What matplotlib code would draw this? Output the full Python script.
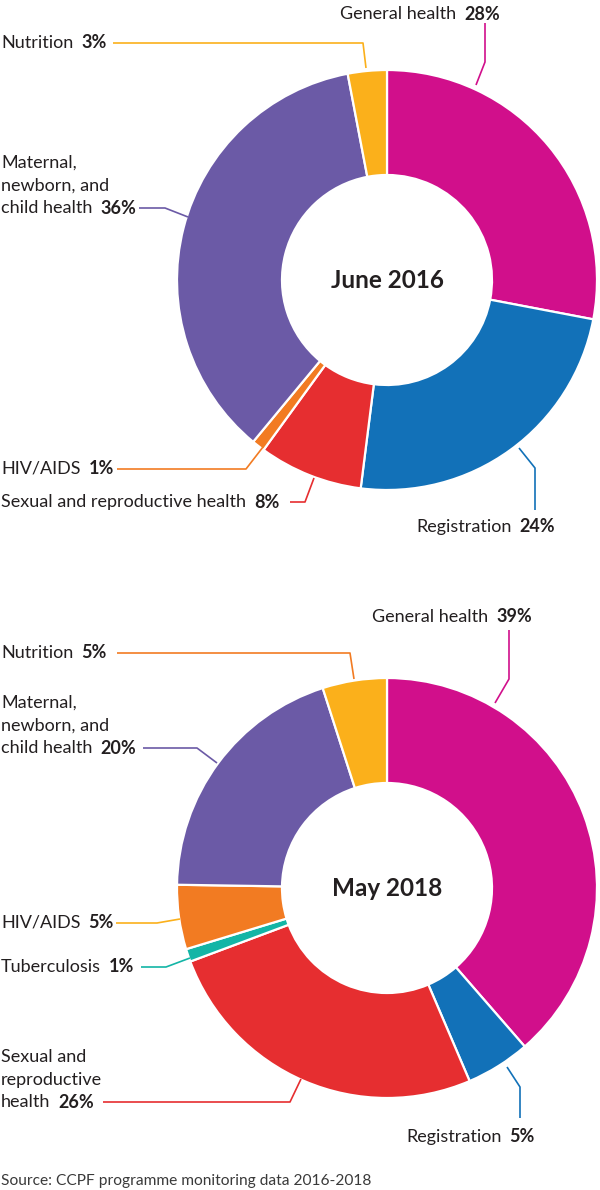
import matplotlib
matplotlib.use('Agg')
import matplotlib.pyplot as plt

W, H = 600, 1190
FONT = ['Lato', 'DejaVu Sans']
TXT = '#231f20'
FS = 13

# ---- data ----
cats_2016 = ['General health', 'Registration', 'Sexual and reproductive health',
             'HIV/AIDS', 'Maternal, newborn, and child health', 'Nutrition']
vals_2016 = [28, 24, 8, 1, 36, 3]
cols_2016 = ['#d10f8b', '#1271b8', '#e62e30', '#f27b22', '#6b5aa6', '#fbb01b']

cats_2018 = ['General health', 'Registration', 'Sexual and reproductive health',
             'Tuberculosis', 'HIV/AIDS', 'Maternal, newborn, and child health', 'Nutrition']
vals_2018 = [39, 5, 26, 1, 5, 20, 5]
cols_2018 = ['#d10f8b', '#1271b8', '#e62e30', '#13b5a6', '#f27b22', '#6b5aa6', '#fbb01b']

titles = ['June 2016', 'May 2018']
source = 'Source: CCPF programme monitoring data 2016-2018'

fig = plt.figure(figsize=(W / 100, H / 100), dpi=100)
ax = fig.add_axes([0, 0, 1, 1])
ax.set_xlim(0, W)
ax.set_ylim(0, H)
ax.set_aspect('equal')
ax.axis('off')


def Y(y):
    return H - y


R_OUT, R_IN = 210, 105
centers = [(387, 280), (387, 888)]

for (cx, cy), vals, cols, title in zip(centers, [vals_2016, vals_2018],
                                      [cols_2016, cols_2018], titles):
    ax.pie(vals, colors=cols, startangle=90, counterclock=False,
           center=(cx, Y(cy)), radius=R_OUT, frame=True,
           wedgeprops=dict(width=R_OUT - R_IN, edgecolor='white', linewidth=1.6))
    ax.text(cx, Y(cy), title, ha='center', va='center', fontsize=17.5,
            fontweight='bold', color=TXT, family=FONT)

ax.set_xlim(0, W)
ax.set_ylim(0, H)
ax.axis('off')

fig.canvas.draw()
renderer = fig.canvas.get_renderer()
LH = 22.5
GAP = 8


def label(lines, pct, x, y, ha='left'):
    """lines: list of text lines; pct appended (bold) to last line.
    y is the vertical centre of the last line (image coords)."""
    n = len(lines)
    for i, ln in enumerate(lines[:-1]):
        ax.text(x, Y(y - (n - 1 - i) * LH), ln, ha='left', va='center',
                fontsize=FS, color=TXT, family=FONT)
    if ha == 'left':
        t = ax.text(x, Y(y), lines[-1], ha='left', va='center', fontsize=FS,
                    color=TXT, family=FONT)
        ext = t.get_window_extent(renderer)
        ax.text(ext.x1 + GAP, Y(y), pct, ha='left', va='center', fontsize=FS,
                fontweight='bold', color=TXT, family=FONT)
    else:
        t = ax.text(x, Y(y), pct, ha='right', va='center', fontsize=FS,
                    fontweight='bold', color=TXT, family=FONT)
        ext = t.get_window_extent(renderer)
        ax.text(ext.x0 - GAP, Y(y), lines[-1], ha='right', va='center',
                fontsize=FS, color=TXT, family=FONT)


def leader(xs, ys, color):
    ax.plot(xs, [Y(v) for v in ys], color=color, lw=1.2, solid_capstyle='butt')


pct = lambda v: f'{v}%'

# ---- 2016 labels ----
label(['General health'], pct(vals_2016[0]), 500, 14, ha='right')
leader([485, 485, 476], [23, 62, 85], cols_2016[0])
label(['Nutrition'], pct(vals_2016[5]), 1, 43)
leader([113, 363, 366], [43, 43, 68], cols_2016[5])
label(['Maternal,', 'newborn, and', 'child health'], pct(vals_2016[4]), 1, 208)
leader([139, 165, 188], [208, 208, 217], cols_2016[4])
label(['HIV/AIDS'], pct(vals_2016[3]), 1, 469)
leader([117, 246, 263], [469, 469, 447], cols_2016[3])
label(['Sexual and reproductive health'], pct(vals_2016[2]), 1, 502)
leader([290, 305, 314], [502, 502, 478], cols_2016[2])
label(['Registration'], pct(vals_2016[1]), 555, 527, ha='right')
leader([535, 535, 519], [510, 468, 448], cols_2016[1])

# ---- 2018 labels ----
label(['General health'], pct(vals_2018[0]), 532, 617, ha='right')
leader([509, 509, 495], [630, 679, 703], cols_2018[0])
label(['Nutrition'], pct(vals_2018[6]), 1, 653)
leader([117, 350, 354], [653, 653, 679], cols_2018[4])
label(['Maternal,', 'newborn, and', 'child health'], pct(vals_2018[5]), 1, 748)
leader([143, 197, 217], [748, 748, 763], cols_2018[5])
label(['HIV/AIDS'], pct(vals_2018[4]), 1, 923)
leader([116, 157, 180], [923, 923, 919], cols_2018[6])
label(['Tuberculosis'], pct(vals_2018[3]), 1, 967)
leader([141, 166, 190], [967, 967, 958], cols_2018[3])
label(['Sexual and', 'reproductive', 'health'], pct(vals_2018[2]), 1, 1102)
leader([103, 290, 301], [1102, 1102, 1079], cols_2018[2])
label(['Registration'], pct(vals_2018[1]), 535, 1137, ha='right')
leader([520, 520, 507], [1118, 1087, 1067], cols_2018[1])

ax.text(1, Y(1181), source, ha='left', va='center', fontsize=11.2,
        color='#3a3a3a', family=FONT)

fig.savefig('out.png', dpi=100, facecolor='white')
